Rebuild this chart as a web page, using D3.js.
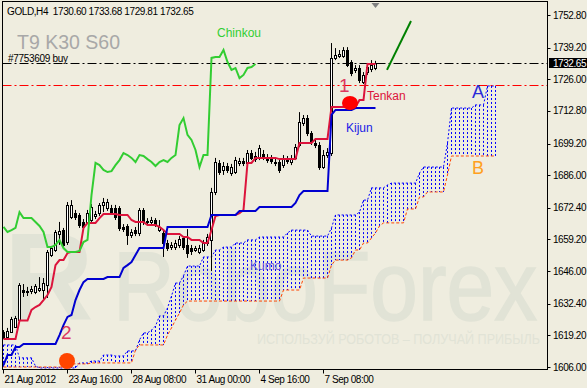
<!DOCTYPE html>
<html>
<head>
<meta charset="utf-8">
<script src="https://cdn.jsdelivr.net/npm/d3@7"></script>
<style>
  body { margin: 0; background: #efeddf; }
  svg text { font-family: "Liberation Sans", Arial, sans-serif; }
</style>
</head>
<body>
<div id="chart"></div>
<script>
// GOLD H4, one value per bar (bar 0 = 21 Aug 2012 00:00)
const opens = [1620.6,1618.5,1620.6,1622.7,1625.6,1638.1,1637.7,1637.7,1637.3,1638.1,1638.1,1640.2,1652.7,1654.8,1661.5,1663.1,1658.1,1668.6,1670.2,1669.4,1666.5,1666.5,1667.3,1669.0,1670.2,1673.6,1672.3,1672.3,1672.3,1672.3,1664.4,1664.8,1661.0,1663.1,1661.9,1671.5,1666.9,1666.5,1667.3,1663.1,1661.9,1657.7,1656.0,1656.0,1656.9,1659.8,1656.9,1655.6,1654.8,1654.0,1654.8,1657.7,1659.0,1679.0,1691.1,1688.2,1689.8,1686.9,1687.3,1691.1,1691.9,1691.1,1695.2,1692.7,1693.2,1694.8,1693.6,1693.2,1691.5,1691.5,1690.2,1692.7,1691.5,1693.2,1698.6,1707.8,1709.8,1703.6,1699.4,1698.6,1689.4,1694.4,1695.2,1734.9,1735.7,1735.7,1738.2,1733.2,1729.9,1730.7,1724.9,1729.0,1730.3,1730.60];
const highs = [1621.4,1622.3,1626.9,1627.3,1641.0,1640.6,1639.4,1639.8,1640.6,1643.5,1643.1,1654.8,1656.5,1663.1,1666.5,1664.0,1674.8,1675.6,1671.5,1670.2,1667.7,1671.5,1674.0,1671.1,1674.4,1676.5,1676.1,1673.6,1673.6,1673.1,1665.6,1665.6,1663.5,1664.4,1672.3,1672.3,1668.1,1668.6,1668.1,1667.3,1663.1,1659.0,1658.1,1659.0,1660.6,1660.6,1663.5,1656.9,1656.5,1656.9,1659.0,1661.5,1680.7,1693.2,1692.3,1691.5,1691.1,1690.7,1693.6,1693.2,1693.2,1696.5,1696.5,1695.7,1698.6,1696.5,1694.8,1694.4,1693.2,1692.7,1694.4,1694.0,1694.4,1699.0,1712.3,1711.1,1711.1,1704.4,1701.1,1699.8,1696.5,1697.3,1741.1,1739.0,1738.2,1739.4,1739.4,1734.0,1731.9,1731.9,1729.0,1732.8,1734.0,1733.68];
const lows = [1617.7,1618.1,1620.2,1622.3,1625.2,1635.2,1635.6,1636.4,1636.4,1637.3,1633.9,1634.8,1651.9,1654.0,1656.9,1656.0,1656.9,1667.7,1667.3,1664.0,1663.1,1665.6,1666.5,1667.7,1669.0,1670.6,1671.1,1669.4,1667.3,1662.7,1662.3,1656.9,1659.8,1660.6,1660.6,1665.2,1665.2,1665.6,1664.4,1662.3,1651.9,1654.4,1654.8,1654.8,1655.6,1654.8,1651.5,1652.7,1654.0,1653.1,1654.0,1656.5,1646.0,1677.7,1686.1,1686.1,1686.9,1685.7,1686.5,1689.8,1689.8,1690.2,1692.3,1691.5,1692.3,1692.3,1691.1,1690.7,1689.8,1686.9,1689.0,1690.7,1690.2,1692.3,1697.7,1706.5,1702.3,1698.6,1697.3,1688.2,1688.6,1693.2,1694.0,1734.0,1734.9,1734.9,1731.1,1727.3,1728.6,1724.4,1724.0,1727.8,1729.0,1729.81];
const closes = [1618.5,1621.0,1626.0,1626.4,1640.2,1637.3,1637.1,1638.5,1639.8,1638.9,1641.0,1654.0,1655.6,1662.3,1662.7,1656.9,1673.6,1673.6,1668.6,1665.2,1664.4,1670.2,1672.7,1669.8,1673.6,1674.8,1674.8,1670.6,1668.6,1664.0,1663.5,1661.0,1662.3,1661.9,1671.5,1666.5,1666.5,1667.3,1665.2,1664.4,1657.7,1655.6,1656.9,1657.7,1659.4,1656.0,1653.5,1654.4,1655.6,1655.6,1657.7,1660.2,1679.0,1691.5,1687.3,1689.8,1688.2,1689.4,1692.3,1691.9,1691.1,1695.2,1693.2,1694.0,1697.3,1693.6,1692.3,1691.9,1691.1,1688.2,1693.2,1691.9,1693.2,1697.7,1708.2,1709.8,1703.6,1699.8,1698.6,1689.4,1694.4,1695.7,1734.9,1736.1,1736.5,1738.2,1731.9,1728.6,1730.7,1725.7,1727.8,1731.1,1731.9,1732.65];

const tenkan = [1617.7,1617.7,1617.7,1617.7,1625.4,1625.4,1625.4,1629.8,1631.0,1631.9,1633.9,1636.0,1639.4,1648.5,1650.6,1650.6,1653.5,1654.0,1654.0,1654.0,1664.0,1666.1,1666.1,1666.1,1668.1,1669.8,1669.8,1669.8,1669.8,1669.4,1669.4,1669.4,1667.3,1666.5,1666.5,1666.5,1665.2,1665.2,1665.2,1664.4,1663.1,1661.5,1661.5,1661.5,1661.5,1660.2,1660.2,1659.0,1659.0,1659.0,1657.7,1657.7,1663.1,1669.0,1669.4,1669.4,1669.4,1669.4,1669.4,1670.2,1671.5,1691.1,1691.1,1693.2,1693.2,1693.2,1693.2,1693.2,1693.2,1692.7,1692.7,1692.7,1692.7,1692.7,1699.4,1699.4,1699.4,1699.4,1701.1,1701.1,1701.1,1701.1,1714.4,1714.4,1714.4,1714.4,1714.4,1714.4,1714.4,1717.3,1717.3,1732.4,1732.4,1732.4];
const kijun = [1606.8,1611.0,1611.0,1614.3,1614.3,1615.6,1615.6,1615.6,1615.6,1615.6,1615.6,1615.6,1615.6,1615.6,1619.3,1623.5,1626.9,1627.7,1633.9,1638.1,1641.4,1642.7,1642.7,1642.7,1642.7,1642.7,1643.5,1643.5,1643.5,1643.5,1647.3,1648.5,1649.8,1652.7,1655.6,1655.6,1655.6,1655.6,1655.6,1655.6,1655.6,1664.4,1664.4,1664.4,1664.4,1664.4,1664.4,1664.4,1664.4,1664.4,1664.4,1664.4,1669.4,1669.4,1669.4,1669.4,1669.4,1669.4,1669.4,1671.1,1671.1,1671.1,1671.1,1671.1,1672.7,1672.7,1672.7,1672.7,1672.7,1672.7,1672.7,1672.7,1672.7,1674.4,1677.7,1679.4,1679.4,1679.4,1679.4,1679.4,1679.4,1679.4,1711.1,1713.2,1713.2,1713.2,1713.2,1713.2,1714.0,1714.0,1714.0,1714.0,1714.0,1714.0];
// chinkou as plotted (already shifted 30 bars back), starts at bar 0
const chinkou = [1664.4,1662.3,1663.1,1664.0,1670.6,1668.1,1668.1,1668.1,1666.5,1664.8,1662.3,1656.0,1656.0,1656.9,1658.9,1655.6,1654.0,1654.0,1654.0,1654.4,1658.1,1659.0,1677.7,1691.1,1690.2,1688.2,1687.3,1687.7,1690.2,1692.3,1695.2,1694.4,1693.2,1691.5,1694.4,1694.0,1692.7,1691.5,1689.8,1691.5,1692.3,1691.5,1693.2,1694.4,1706.9,1709.8,1702.8,1700.7,1696.5,1689.4,1694.4,1694.4,1734.9,1735.3,1735.3,1738.2,1733.2,1729.9,1730.7,1726.5,1727.8,1730.7,1731.1,1732.4];
// senkou spans as plotted (30 bars ahead), starts at bar 0
const senkouA = [1615.2,1615.2,1615.2,1615.2,1609.8,1609.8,1609.8,1609.8,1606.4,1605.6,1605.6,1605.6,1605.6,1605.6,1605.6,1605.6,1605.6,1605.6,1605.6,1607.7,1607.7,1607.7,1608.5,1608.5,1608.5,1611.0,1611.0,1611.0,1610.6,1610.6,1610.6,1612.7,1612.7,1612.7,1617.3,1620.2,1620.2,1621.4,1623.1,1627.3,1627.3,1630.6,1635.6,1641.0,1641.0,1644.0,1648.1,1648.1,1648.1,1648.1,1651.9,1651.9,1651.9,1654.8,1654.8,1656.0,1656.0,1656.0,1657.7,1657.7,1657.7,1659.0,1659.0,1659.0,1660.2,1660.2,1660.2,1660.2,1660.2,1660.2,1660.2,1661.9,1663.1,1663.1,1663.1,1663.1,1663.1,1660.6,1660.6,1660.6,1660.6,1660.6,1664.0,1669.4,1669.4,1669.4,1669.4,1669.4,1669.4,1670.6,1675.6,1675.6,1680.7,1680.7,1680.7,1680.7,1681.9,1682.7,1682.7,1682.7,1682.7,1682.7,1682.7,1682.7,1686.9,1689.4,1689.4,1689.4,1689.4,1689.4,1689.4,1699.4,1714.0,1714.0,1714.0,1714.0,1714.0,1714.0,1715.3,1715.3,1715.3,1723.2,1723.2,1723.2];
const senkouB = [1606.0,1606.0,1606.0,1606.0,1606.0,1606.0,1606.0,1606.0,1606.0,1606.0,1606.0,1606.0,1606.0,1606.0,1606.0,1606.0,1607.3,1607.3,1607.3,1607.3,1607.3,1607.3,1607.7,1607.7,1607.7,1607.7,1607.7,1607.7,1607.7,1607.7,1607.7,1607.7,1607.7,1613.1,1615.2,1615.2,1615.2,1615.2,1615.2,1615.2,1615.2,1619.3,1622.3,1625.6,1628.5,1631.9,1633.5,1633.5,1633.5,1633.5,1633.5,1633.5,1633.5,1633.5,1633.5,1633.5,1633.5,1633.5,1633.5,1633.5,1633.5,1633.5,1633.5,1633.5,1633.5,1633.5,1633.5,1633.5,1633.5,1633.5,1638.1,1638.1,1638.1,1638.1,1638.1,1643.1,1643.1,1643.1,1643.1,1643.1,1643.1,1643.1,1648.5,1650.6,1650.6,1650.6,1650.6,1651.5,1654.8,1654.8,1657.7,1657.7,1659.8,1661.9,1664.8,1666.1,1666.1,1666.1,1666.1,1666.1,1666.1,1671.9,1671.9,1671.9,1676.9,1676.9,1679.0,1679.0,1679.0,1679.0,1679.0,1686.1,1694.0,1694.0,1694.0,1694.0,1694.0,1694.0,1694.0,1694.0,1694.0,1694.0,1694.0,1694.0];

const priceTicks = [1606.00,1619.20,1632.40,1646.00,1659.20,1672.40,1686.00,1699.20,1712.80,1726.00,1739.20,1752.80];
const timeTickBars = [0,16,32,48,64,80];
const timeTickLabels = ['21 Aug 2012','23 Aug 16:00','28 Aug 08:00','31 Aug 00:00','4 Sep 16:00','7 Sep 08:00'];

const orderPrice = 1732.6;
const stopPrice = 1723.8;
const lastPrice = 1732.65;
const markerBars = [86.75, 16];
const markerPrices = [1716.1, 1608.5];
const trendBars = [96, 102];
const trendPrices = [1729.9, 1750.3];

const width = 587, height = 388;
const plotLeft = 2.5, plotRight = 547.5, plotTop = 1.5, plotBottom = 369.5;

const svg = d3.select('#chart').append('svg')
  .attr('width', width)
  .attr('height', height);

svg.append('rect').attr('width', width).attr('height', height).attr('fill', '#efeddf');

const x = d3.scaleLinear().domain([0, 136]).range([3, 547]);
const y = d3.scaleLinear().domain([1606, 1752.8]).range([367, 15]);

svg.append('clipPath').attr('id', 'plot')
  .append('rect').attr('x', plotLeft).attr('y', plotTop)
  .attr('width', plotRight - plotLeft).attr('height', plotBottom - plotTop);

const g = svg.append('g').attr('clip-path', 'url(#plot)');

// watermark
const wm = '#e1e3d6';
g.append('text').attr('x', 4).attr('y', 320).attr('fill', wm)
  .attr('font-size', 124).attr('font-weight', 'bold').text('R');
g.append('text').attr('x', 113).attr('y', 320).attr('fill', wm)
  .attr('font-size', 98).attr('textLength', 424).attr('lengthAdjust', 'spacingAndGlyphs')
  .attr('stroke', wm).attr('stroke-width', 1.5)
  .text('RoboForex');
g.append('text').attr('x', 257).attr('y', 344).attr('fill', wm)
  .attr('font-size', 14.5).attr('textLength', 283).attr('lengthAdjust', 'spacingAndGlyphs')
  .text('ИСПОЛЬЗУЙ РОБОТОВ – ПОЛУЧАЙ ПРИБЫЛЬ');

// kumo hatch
g.selectAll('.hatch')
  .data(senkouA)
  .enter().append('line')
  .attr('class', 'hatch')
  .attr('x1', (d, i) => x(i) + 0.5)
  .attr('x2', (d, i) => x(i) + 0.5)
  .attr('y1', d => y(d))
  .attr('y2', (d, i) => y(senkouB[i]))
  .attr('stroke', '#0000ff')
  .attr('stroke-width', 1)
  .attr('stroke-dasharray', '2,2');

const line = d3.line().x((d, i) => x(i) + 0.5).y(d => y(d));

g.append('path').attr('d', line(senkouA)).attr('fill', 'none')
  .attr('stroke', '#0000ff').attr('stroke-width', 1).attr('stroke-dasharray', '2,2');
g.append('path').attr('d', line(senkouB)).attr('fill', 'none')
  .attr('stroke', '#ff4500').attr('stroke-width', 1).attr('stroke-dasharray', '3,2');

// order / stop lines
const hline = (price, color) => {
  const yy = Math.round(y(price)) + 0.5;
  g.append('line').attr('x1', plotLeft).attr('x2', plotRight)
    .attr('y1', yy).attr('y2', yy)
    .attr('stroke', color).attr('stroke-dasharray', '9,3,2,3');
};
hline(orderPrice, '#000');
hline(stopPrice, '#ff0000');

// candles
const bars = d3.range(closes.length);
g.selectAll('.wick')
  .data(bars)
  .enter().append('line')
  .attr('class', 'wick')
  .attr('x1', i => x(i) + 0.5).attr('x2', i => x(i) + 0.5)
  .attr('y1', i => y(highs[i])).attr('y2', i => y(lows[i]))
  .attr('stroke', '#000');

g.selectAll('.body')
  .data(bars)
  .enter().append('rect')
  .attr('class', 'body')
  .attr('x', i => x(i) - 0.5)
  .attr('width', 2)
  .attr('y', i => Math.round(y(Math.max(opens[i], closes[i]))) + 0.5)
  .attr('height', i => Math.max(0.01, Math.round(Math.abs(y(opens[i]) - y(closes[i])))))
  .attr('fill', i => closes[i] >= opens[i] ? '#fff' : '#000')
  .attr('stroke', '#000');

// ichimoku lines
g.append('path').attr('d', line(tenkan)).attr('fill', 'none')
  .attr('stroke', '#dc143c').attr('stroke-width', 2);
g.append('path').attr('d', line(kijun)).attr('fill', 'none')
  .attr('stroke', '#0000d0').attr('stroke-width', 2);
g.append('path').attr('d', line(chinkou)).attr('fill', 'none')
  .attr('stroke', '#32cd32').attr('stroke-width', 2);

// trend line
g.append('line')
  .attr('x1', x(trendBars[0])).attr('y1', y(trendPrices[0]))
  .attr('x2', x(trendBars[1])).attr('y2', y(trendPrices[1]))
  .attr('stroke', '#008000').attr('stroke-width', 2);

// markers
g.append('ellipse').attr('cx', x(markerBars[0])).attr('cy', y(markerPrices[0]))
  .attr('rx', 8).attr('ry', 7).attr('fill', '#ff0000');
g.append('circle').attr('cx', x(markerBars[1])).attr('cy', y(markerPrices[1]))
  .attr('r', 8).attr('fill', '#ff4500');

// annotations
const note = (tx, ty, txt, color, size) =>
  g.append('text').attr('x', tx).attr('y', ty).attr('fill', color).attr('font-size', size).text(txt);
note(217, 37, 'Chinkou', '#32cd32', 12);
note(367, 100, 'Tenkan', '#dc143c', 12);
note(346, 132, 'Kijun', '#1a1ae6', 12);
note(250, 270, 'Kumo', '#6450dc', 12);
note(472, 98, 'A', '#2a2ad8', 18);
note(472, 174, 'B', '#ffa020', 18);
note(339, 92, '1', '#dc3860', 19);
note(61, 339, '2', '#dc3860', 19);
note(17, 49, 'T9 K30 S60', '#a8a8a8', 19.5);
note(8, 62, '#7753609 buy', '#000', 10).attr('letter-spacing', -0.3);
note(7, 15, 'GOLD,H4  1730.60 1733.68 1729.81 1732.65', '#000', 10)
  .attr('letter-spacing', -0.4).style('white-space', 'pre');

// shift marker
svg.append('path').attr('d', d3.line()([[x(93) - 3.5, 3], [x(93) + 4.5, 3], [x(93) + 0.5, 8]]))
  .attr('fill', '#808080');

// frame
svg.append('rect').attr('x', plotLeft).attr('y', plotTop)
  .attr('width', plotRight - plotLeft).attr('height', plotBottom - plotTop)
  .attr('fill', 'none').attr('stroke', '#000');

// price axis
const ya = svg.append('g');
ya.selectAll('line').data(priceTicks).enter().append('line')
  .attr('x1', plotRight).attr('x2', plotRight + 3)
  .attr('y1', d => Math.round(y(d)) + 0.5).attr('y2', d => Math.round(y(d)) + 0.5)
  .attr('stroke', '#000');
ya.selectAll('text').data(priceTicks).enter().append('text')
  .attr('x', 553).attr('y', d => y(d) + 3.5)
  .attr('font-size', 10).attr('letter-spacing', -0.45).attr('fill', '#000')
  .text(d => d.toFixed(2));

// last price label
svg.append('rect').attr('x', 549).attr('y', Math.round(y(lastPrice)) - 5)
  .attr('width', 38).attr('height', 10).attr('fill', '#000');
svg.append('text').attr('x', 553).attr('y', y(lastPrice) + 3.5)
  .attr('font-size', 10).attr('letter-spacing', -0.45).attr('fill', '#fff')
  .text(lastPrice.toFixed(2));

// time axis
const xa = svg.append('g');
xa.selectAll('line').data(timeTickBars).enter().append('line')
  .attr('x1', d => x(d) + 0.5).attr('x2', d => x(d) + 0.5)
  .attr('y1', plotBottom).attr('y2', plotBottom + 4)
  .attr('stroke', '#000');
xa.selectAll('text').data(timeTickBars).enter().append('text')
  .attr('x', d => x(d) + 1.5).attr('y', 383)
  .attr('font-size', 10).attr('letter-spacing', -0.45).attr('fill', '#000')
  .text((d, i) => timeTickLabels[i]);
</script>
</body>
</html>
